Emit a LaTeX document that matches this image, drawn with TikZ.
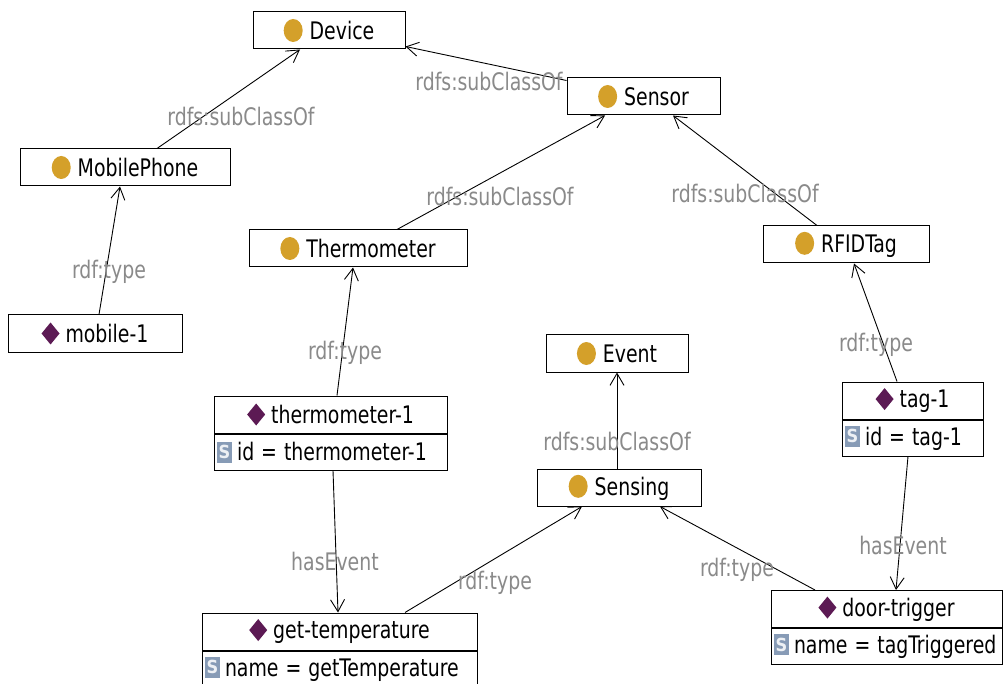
\documentclass[tikz,border=0pt]{standalone}
\usepackage{fontspec}
\setmainfont{DejaVu Sans Condensed}
\usetikzlibrary{arrows.meta}

\definecolor{dotgold}{RGB}{212,160,42}
\definecolor{indpurple}{RGB}{92,26,84}
\definecolor{propgray}{RGB}{135,155,182}
\definecolor{labelgray}{RGB}{138,138,138}

% slightly tall lettering
\newcommand\vs[1]{\scalebox{1}[1.15]{#1}}
% icons: class, individual, datatype property
\newcommand\clsdot{\tikz[baseline=-0.42em]\fill[dotgold] (0pt,0pt) ellipse [x radius=9.5pt, y radius=11.5pt];}
\newcommand\inddia{\tikz[baseline=-0.42em]\fill[indpurple] (0pt,11pt) -- (9pt,0pt) -- (0pt,-11pt) -- (-9pt,0pt) -- cycle;}
\newcommand\propS{\tikz[baseline=-0.42em]\node[anchor=center, fill=propgray, text=white!85!propgray, minimum width=15pt, minimum height=21pt, inner sep=0pt, font=\fontsize{18}{18}\selectfont\bfseries]{S};}
\newcommand\cl[1]{\clsdot\hspace{7pt}\vs{#1}}
\newcommand\ind[1]{\inddia\hspace{6pt}\vs{#1}}
\newcommand\prop[1]{\propS\hspace{5pt}\vs{#1}}

\tikzset{
  box/.style={draw, line width=1pt, fill=white, inner sep=0pt, minimum height=37pt,
    font=\fontsize{21}{25}\selectfont},
  propbox/.style={box, anchor=north west, minimum height=36pt, inner xsep=3pt,
    align=left},
  lbl/.style={text=labelgray, inner sep=0pt, font=\fontsize{21}{25}\selectfont},
  arr/.style={line width=0.9pt, draw=black,
    -{Straight Barb[length=12pt,width=14pt,line width=0.9pt]}},
}

\begin{document}
\begin{tikzpicture}[x=1pt, y=-1pt]
\useasboundingbox (0,0) rectangle (1006,684);
\clip (0,0) rectangle (1006,684);
\fill[white] (0,0) rectangle (1006,684);

% classes
\node[box, minimum width=152pt] (device)  at (329,30.5)  {\cl{Device}};
\node[box, minimum width=153pt] (sensor)  at (643.5,96.5) {\cl{Sensor}};
\node[box, minimum width=210pt] (mobph)   at (125,167.5) {\cl{MobilePhone}};
\node[box, minimum width=218pt] (therm)   at (358,248.5) {\cl{Thermometer}};
\node[box, minimum width=166pt] (rfid)    at (846,244.5) {\cl{RFIDTag}};
\node[box, minimum width=142pt] (event)   at (617,353.5) {\cl{Event}};
\node[box, minimum width=164pt] (sensing) at (619,487.5) {\cl{Sensing}};

% individuals
\node[box, minimum width=174pt] (mob1) at (95,333.5) {\ind{mobile-1}};

\node[box, minimum width=233pt] (th1) at (330.5,414.5) {\ind{thermometer-1}};
\node[propbox, text width=227pt] (th1p) at (th1.south west) {\prop{id = thermometer-1}};

\node[box, minimum width=141pt] (tag1) at (912.5,400.5) {\ind{tag-1}};
\node[propbox, text width=135pt] (tag1p) at (tag1.south west) {\prop{id = tag-1}};

\node[box, minimum width=275pt] (gt) at (339.5,631.5) {\ind{get-temperature}};
\node[propbox, text width=269pt] (gtp) at (gt.south west) {\prop{name = getTemperature}};

\node[box, minimum width=231pt] (door) at (886.5,609) {\ind{door-trigger}};
\node[propbox, text width=225pt] (doorp) at (door.south west) {\prop{name = tagTriggered}};

% connectors
\draw[arr] ([xshift=32pt]mobph.north) -- ([xshift=-29pt]device.south);
\draw[arr] ([yshift=16pt]sensor.west) -- ([yshift=-16pt]device.east);
\draw[arr] ([xshift=39pt]therm.north) -- ([xshift=-38.5pt]sensor.south);
\draw[arr] ([xshift=-29pt]rfid.north) -- ([xshift=29.5pt]sensor.south);
\draw[arr] ([xshift=4pt]mob1.north) -- ([xshift=-5pt]mobph.south);
\draw[arr] ([xshift=6.5pt]th1.north) -- ([xshift=-5pt]therm.south);
\draw[arr] ([xshift=-15.5pt]tag1.north) -- ([xshift=8pt]rfid.south);
\draw[arr] ([xshift=-2pt]sensing.north) -- (event.south);
\draw[arr] ([xshift=2.5pt]th1p.south) -- ([xshift=-1.5pt]gt.north);
\draw[arr] ([xshift=-4.5pt]tag1p.south) -- ([xshift=9.5pt]door.north);
\draw[arr] ([xshift=65.5pt]gt.north) -- ([xshift=-37pt]sensing.south);
\draw[arr] ([xshift=-71.5pt]door.north) -- ([xshift=41pt]sensing.south);

% connector labels
\node[lbl] (l1)  at (241,117) {\vs{rdfs:subClassOf}};
\node[lbl] (l2)  at (489,82)  {\vs{rdfs:subClassOf}};
\node[lbl] (l3)  at (500,196) {\vs{rdfs:subClassOf}};
\node[lbl] (l4)  at (745,193) {\vs{rdfs:subClassOf}};
\node[lbl] (l5)  at (109,272) {\vs{rdf:type}};
\node[lbl] (l6)  at (345,353) {\vs{rdf:type}};
\node[lbl] (l7)  at (876,345) {\vs{rdf:type}};
\node[lbl] (l8)  at (617,441) {\vs{rdfs:subClassOf}};
\node[lbl] (l9)  at (335,561) {\vs{hasEvent}};
\node[lbl] (l10) at (903,545) {\vs{hasEvent}};
\node[lbl] (l11) at (495,583) {\vs{rdf:type}};
\node[lbl] (l12) at (737,570) {\vs{rdf:type}};
\end{tikzpicture}
\end{document}
